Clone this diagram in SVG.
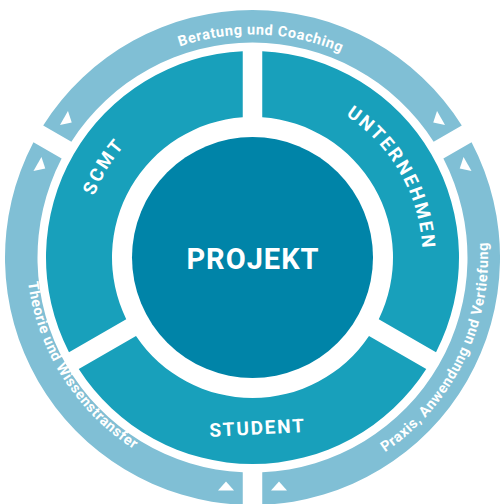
<svg xmlns="http://www.w3.org/2000/svg" xmlns:xlink="http://www.w3.org/1999/xlink" width="500" height="504" viewBox="0 0 500 504">
<style>
  .outer { fill: #80bfd5; }
  .mid { fill: #18a0bb; }
  .core { fill: #0084a8; }
  .tri { fill: #ffffff; }
  text { font-family: Roboto, "DejaVu Sans", sans-serif; font-weight: bold; fill: #ffffff; }
  .ring { font-size: 14.5px; letter-spacing: 0.6px; }
  .seg { font-size: 18.5px; letter-spacing: 2.4px; }
  .stud { font-size: 19px; letter-spacing: 1.8px; }
  .center { font-size: 29px; letter-spacing: 1px; }
</style>
<defs>
  <path id="pSCMT" d="M 163.93 402.61 A 170 170 0 0 1 341.07 112.39"/>
  <path id="pUNT" d="M 168.54 109.68 A 170 170 0 0 1 336.46 405.32"/>
  <path id="pBer" d="M 28.17 248.88 A 224.5 224.5 0 0 1 476.83 266.12"/>
  <path id="pTheo" d="M 125.97 58.88 A 235.5 235.5 0 0 0 378.03 456.12"/>
  <path id="pPrax" d="M 149.26 469.17 A 235.5 235.5 0 0 0 355.74 45.83"/>
  <polygon id="triL" class="tri" points="218,490.5 234,490.5 226,481.5"/>
  <polygon id="triR" class="tri" points="271,490.5 287,490.5 279,481.5"/>
</defs>
<rect width="500" height="504" fill="#ffffff"/>

<g id="ring-beratung">
  <path class="outer" d="M 43.20 125.40 A 247.5 247.5 0 0 1 461.80 125.40 L 433.63 141.66 A 215 215 0 0 0 71.37 141.66 Z"/>
  <use xlink:href="#triL" transform="rotate(120 252.5 257.5)"/>
  <use xlink:href="#triR" transform="rotate(240 252.5 257.5)"/>
  <text class="ring"><textPath xlink:href="#pBer" startOffset="50%" text-anchor="middle">Beratung und Coaching</textPath></text>
</g>
<g id="ring-praxis">
  <path class="outer" d="M 471.56 142.30 A 247.5 247.5 0 0 1 262.25 504.81 L 262.25 472.28 A 215 215 0 0 0 443.38 158.56 Z"/>
  <use xlink:href="#triL" transform="rotate(240 252.5 257.5)"/>
  <use xlink:href="#triR"/>
  <text class="ring"><textPath xlink:href="#pPrax" startOffset="50%" text-anchor="middle">Praxis, Anwendung und Vertiefung</textPath></text>
</g>
<g id="ring-theorie">
  <path class="outer" d="M 242.75 504.81 A 247.5 247.5 0 0 1 33.44 142.30 L 61.62 158.56 A 215 215 0 0 0 242.75 472.28 Z"/>
  <use xlink:href="#triL"/>
  <use xlink:href="#triR" transform="rotate(120 252.5 257.5)"/>
  <text class="ring"><textPath xlink:href="#pTheo" startOffset="50%" text-anchor="middle">Theorie und Wissenstransfer</textPath></text>
</g>

<g id="node-scmt">
  <path class="mid" d="M 68.98 352.18 A 206.5 206.5 0 0 1 242.74 51.23 L 242.75 117.34 A 140.5 140.5 0 0 0 126.24 319.13 Z"/>
  <text class="seg"><textPath xlink:href="#pSCMT" startOffset="50%" text-anchor="middle">SCMT</textPath></text>
</g>
<g id="node-unternehmen">
  <path class="mid" d="M 262.26 51.23 A 206.5 206.5 0 0 1 436.02 352.18 L 378.76 319.13 A 140.5 140.5 0 0 0 262.25 117.34 Z"/>
  <text class="seg"><textPath xlink:href="#pUNT" startOffset="50%" text-anchor="middle">UNTERNEHMEN</textPath></text>
</g>
<g id="node-student">
  <path class="mid" d="M 426.26 369.08 A 206.5 206.5 0 0 1 78.74 369.08 L 136.00 336.04 A 140.5 140.5 0 0 0 369.00 336.04 Z"/>
  <text class="stud" x="257.5" y="434.5" text-anchor="middle" transform="rotate(-3 257.5 428)">STUDENT</text>
</g>
<g id="node-projekt">
  <circle class="core" cx="252.5" cy="257.5" r="120.5"/>
  <text class="center" x="253" y="269" text-anchor="middle">PROJEKT</text>
</g>
<g id="connectors"></g>
</svg>
